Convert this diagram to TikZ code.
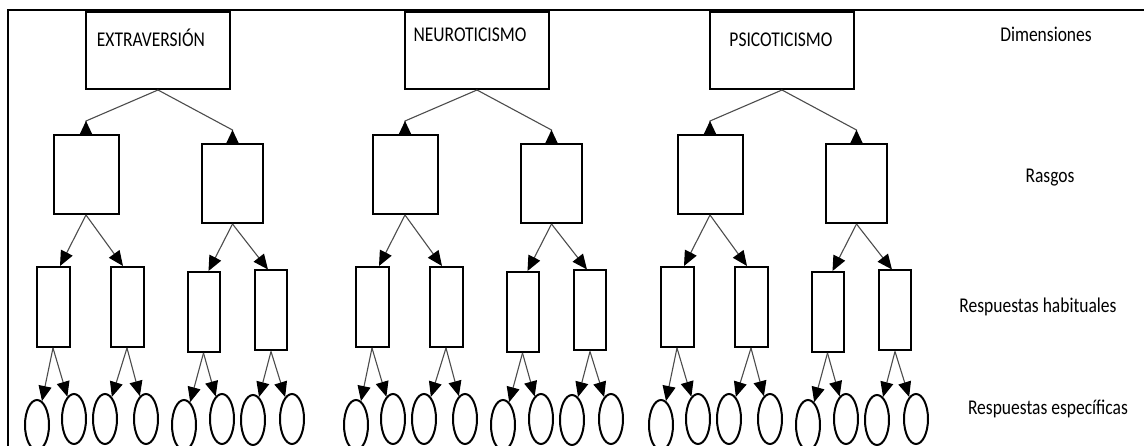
\documentclass[tikz,border=0pt]{standalone}
\usepackage{fontspec}
\setmainfont{Carlito}
\usepackage{graphicx}
\usepackage{tikz}
\usetikzlibrary{positioning,arrows.meta,shapes.geometric,calc}
\newcommand{\tallText}[1]{\scalebox{1}[1.2]{#1}}
\tikzset{%
  dimBox/.style={
    rectangle, draw=black, line width=2pt, inner sep=0pt,
    minimum width=144pt, minimum height=77pt,
    font=\fontsize{17.5}{21}\selectfont},
  traitBox/.style={rectangle, draw=black, line width=2pt, inner sep=0pt,
    minimum height=79pt},
  habitBox/.style={rectangle, draw=black, line width=2pt, inner sep=0pt,
    minimum width=33pt, minimum height=80pt},
  respOval/.style={ellipse, draw=black, line width=2pt, inner sep=0pt,
    minimum width=24pt, minimum height=50pt},
  levelText/.style={anchor=base, font=\fontsize{17.5}{21}\selectfont},
  upLink/.style={-{Triangle[reversed, length=13pt, width=12pt, color=black]},
    line width=1.1pt, black!70},
  downLink/.style={-{Triangle[length=15pt, width=13pt, color=black]},
    line width=1.1pt, black!70},
}
\begin{document}
\begin{tikzpicture}[x=1pt, y=-1pt]
  \useasboundingbox (0,0) rectangle (1144,446);
  % frame
  \draw[line width=2.6pt] (8,446) -- (8,10) -- (1144,10);

  \foreach \g/\cx/\lab/\th/\gap in {ext/158/EXTRAVERSIÓN/35/14, neu/477/NEUROTICISMO/30/14, psi/782/PSICOTICISMO/35/2} {
    \node[dimBox, text height=\th pt, text depth=77pt-\th pt] (\g) at (\cx,50.5) {\tallText{\lab}\hspace*{\gap pt}};
    % rasgos
    \node[traitBox, minimum width=65pt] (\g-t1) at (\cx-72,174.5) {};
    \node[traitBox, minimum width=61pt] (\g-t2) at (\cx+74.5,183.5) {};
    % respuestas habituales
    \node[habitBox] (\g-h1) at (\cx-105,307) {};
    \node[habitBox] (\g-h2) at (\cx-31,307) {};
    \node[habitBox, minimum width=32pt] (\g-h3) at (\cx+45.5,312) {};
    \node[habitBox, minimum width=32pt] (\g-h4) at (\cx+113,310.5) {};
    % respuestas especificas
    \foreach \i/\dx/\y in {1/-121/425, 2/-84/419, 3/-53/419, 4/-12/419, 5/26/425, 6/64/419, 7/95/420, 8/134/419}
      \node[respOval] (\g-r\i) at (\cx+\dx,\y) {};

    \draw[upLink] (\g.south) -- ([yshift=13pt]\g-t1.north) -- (\g-t1.north);
    \draw[upLink] (\g.south) -- ([yshift=13pt]\g-t2.north) -- (\g-t2.north);
    \draw[downLink] (\g-t1.south) -- ([xshift=7pt]\g-h1.north);
    \draw[downLink] (\g-t1.south) -- ([xshift=-4pt]\g-h2.north);
    \draw[downLink] (\g-t2.south) -- ([xshift=5pt]\g-h3.north);
    \draw[downLink] (\g-t2.south) -- ([xshift=-3pt]\g-h4.north);
    \foreach \h/\a/\b in {1/1/2, 2/3/4, 3/5/6, 4/7/8} {
      \draw[downLink] (\g-h\h.south) -- (\g-r\a);
      \draw[downLink] (\g-h\h.south) -- (\g-r\b);
    }
  }

  % niveles
  \node[levelText] (lvDim)   at (1046,42)  {\tallText{Dimensiones}};
  \node[levelText] (lvRasgo) at (1050,183) {\tallText{Rasgos}};
  \node[levelText] (lvHab)   at (1038,313) {\tallText{Respuestas habituales}};
  \node[levelText] (lvEsp)   at (1048,415) {\tallText{Respuestas específicas}};
\end{tikzpicture}
\end{document}
